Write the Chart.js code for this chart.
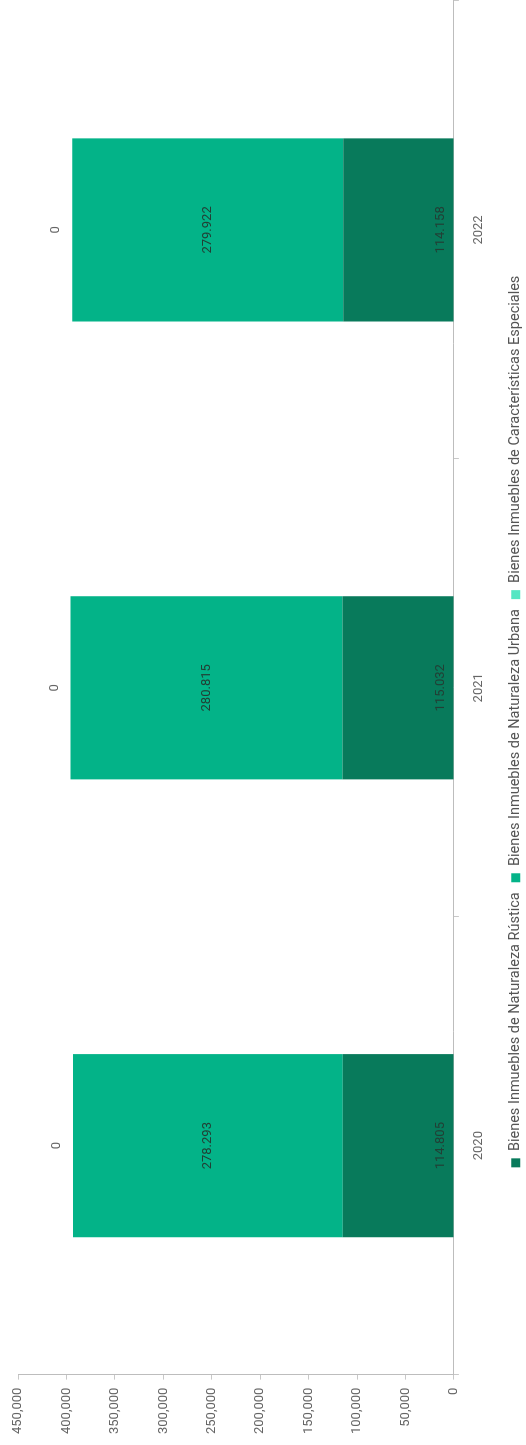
<!DOCTYPE html>
<html>
<head>
<meta charset="utf-8">
<script src="https://cdn.jsdelivr.net/npm/chart.js@4.4.0/dist/chart.umd.min.js"></script>
<style>
    html, body { margin: 0; padding: 0; background: #fff; width: 526px; height: 1445px; overflow: hidden; }
    /* the chart is drawn lying down, then turned a quarter to the left;
       the canvas is a few px taller than the page so the legend sits lower */
    #wrap { position: absolute; left: 0; top: 0; width: 1445px; height: 533px;
            transform-origin: 0 0; transform: translate(0, 1445px) rotate(-90deg); }
</style>
</head>
<body>
<div id="wrap"><canvas id="myChart" width="1445" height="533"></canvas></div>
<script>
var years = ['2020', '2021', '2022'];
var rustica = [114805, 115032, 114158];
var urbana = [278293, 280815, 279922];
var especiales = [0, 0, 0];
var seriesNames = [
    'Bienes Inmuebles de Naturaleza Rústica',
    'Bienes Inmuebles de Naturaleza Urbana',
    'Bienes Inmuebles de Características Especiales'
];
var yMax = 450000;
var yStep = 50000;

function fmt(v, sep) {
    return String(v).replace(/\B(?=(\d{3})+(?!\d))/g, sep);
}

// value labels: first series near the base, second centred, third above the stack
var valueLabels = {
    id: 'valueLabels',
    afterDatasetsDraw: function (chart) {
        var ctx = chart.ctx;
        ctx.save();
        ctx.font = '13px Roboto';
        ctx.textAlign = 'center';
        ctx.textBaseline = 'middle';
        chart.data.datasets.forEach(function (ds, i) {
            chart.getDatasetMeta(i).data.forEach(function (bar, j) {
                var y;
                if (i === 0) {
                    y = bar.base - 13;
                    ctx.fillStyle = '#223f35';
                } else if (i === 1) {
                    y = (bar.y + bar.base) / 2;
                    ctx.fillStyle = '#223f35';
                } else {
                    y = bar.y - 16;
                    ctx.fillStyle = '#666';
                }
                ctx.fillText(fmt(ds.data[j], '.'), bar.x, y);
            });
        });
        ctx.restore();
    }
};

Chart.defaults.font.family = 'Roboto';
Chart.defaults.font.size = 13;

new Chart(document.getElementById('myChart'), {
    type: 'bar',
    data: {
        labels: years,
        datasets: [
            {label: seriesNames[0], data: rustica, backgroundColor: '#087a5b'},
            {label: seriesNames[1], data: urbana, backgroundColor: '#03b388'},
            {label: seriesNames[2], data: especiales, backgroundColor: '#55e6c3'}
        ]
    },
    options: {
        responsive: false,
        animation: false,
        categoryPercentage: 1,
        barPercentage: 0.4,
        layout: {padding: {left: 3, top: 18, right: 1, bottom: 0}},
        plugins: {
            legend: {
                position: 'bottom',
                labels: {boxWidth: 9, boxHeight: 9, padding: 10, color: '#555', font: {size: 14.5}}
            },
            tooltip: {enabled: false}
        },
        scales: {
            x: {
                stacked: true,
                grid: {drawOnChartArea: false, tickLength: 5, color: '#c8c8c8'},
                border: {color: '#bdbdbd'},
                ticks: {color: '#666', padding: 12}
            },
            y: {
                stacked: true,
                min: 0,
                max: yMax,
                grid: {drawOnChartArea: false, tickLength: 5, color: '#c8c8c8'},
                border: {color: '#bdbdbd'},
                ticks: {
                    stepSize: yStep,
                    color: '#666',
                    padding: 8,
                    callback: function (v) { return fmt(v, ','); }
                }
            }
        }
    },
    plugins: [valueLabels]
});
</script>
</body>
</html>
